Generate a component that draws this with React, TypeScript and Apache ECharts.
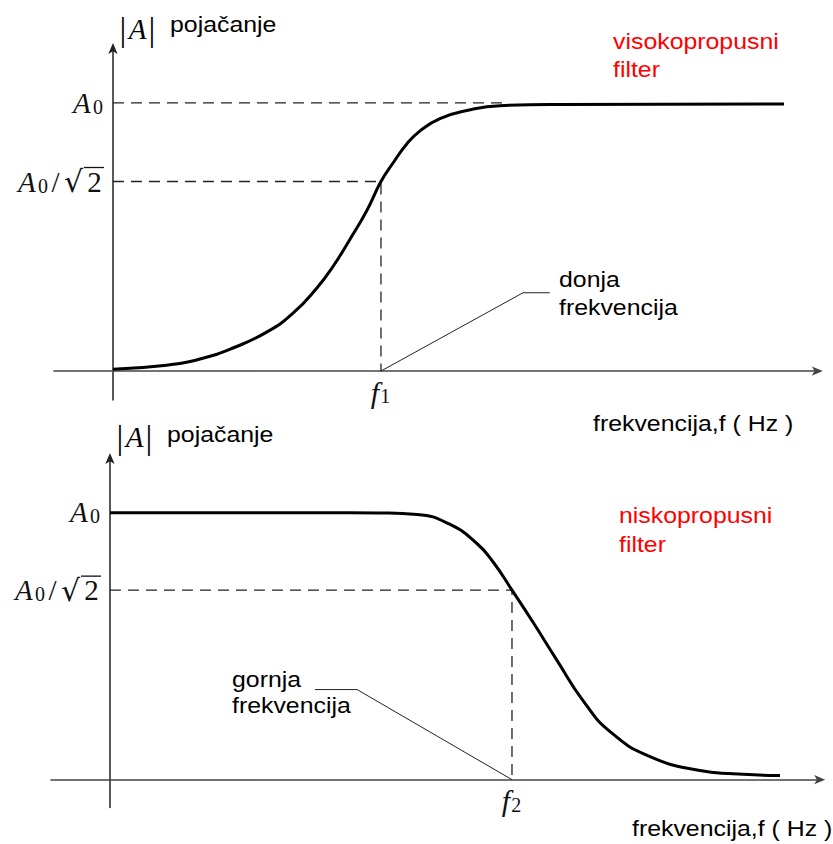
import React, { useEffect, useRef } from "react";
import * as echarts from "echarts";

// High-pass (visokopropusni) response, x in units where f1 = 1, y in units of A0
const hpX = [0, 0.2, 0.325, 0.448, 0.575, 0.672, 0.761, 0.821, 0.884, 0.948, 1.0, 1.045, 1.097, 1.146, 1.22, 1.321, 1.444, 1.668, 2.504];
const hpY = [0.007, 0.022, 0.045, 0.086, 0.146, 0.216, 0.31, 0.39, 0.491, 0.6, 0.707, 0.776, 0.848, 0.896, 0.942, 0.972, 0.99, 0.994, 0.996];
// Low-pass (niskopropusni) response, x in the same units (f2 = 1.5)
const lpX = [0, 0.5, 0.896, 1.0, 1.146, 1.269, 1.369, 1.429, 1.5, 1.578, 1.668, 1.765, 1.866, 2.015, 2.201, 2.325, 2.5];
const lpY = [0.996, 0.996, 0.996, 0.995, 0.989, 0.952, 0.881, 0.813, 0.707, 0.588, 0.445, 0.295, 0.179, 0.086, 0.034, 0.022, 0.015];

const A0 = 1;
const A0_SQRT2 = 0.707;
const f1 = 1;
const f2 = 1.5;
const hpA0End = 1.46;
const hpLeaderX = [f1, 1.53, 1.63];
const hpLeaderY = [0, 0.292, 0.292];
const lpLeaderX = [f2, 0.922, 0.765];
const lpLeaderY = [0, 0.336, 0.336];

const SANS = "Liberation Sans";
const SERIF = "Liberation Serif";
const INK = "#111";
const Y_LABEL_MARGIN = 9;

const mathRich = {
  a: { fontFamily: SERIF, fontStyle: "italic", fontSize: 29, color: INK, lineHeight: 28, width: 20, align: "center" },
  s: { fontFamily: SERIF, fontSize: 20, color: INK, lineHeight: 2, verticalAlign: "bottom", width: 12, align: "left" },
  n: { fontFamily: SERIF, fontSize: 29, color: INK, lineHeight: 28, width: 13, align: "center" },
  r: { fontFamily: "DejaVu Serif", fontSize: 30, color: INK, lineHeight: 28, width: 23, align: "right" },
  d: { fontFamily: SERIF, fontSize: 29, color: INK, lineHeight: 28, width: 19, align: "center" },
  b: { fontFamily: SERIF, fontSize: 34, color: INK, lineHeight: 34, width: 8, align: "center" },
  c: { fontFamily: SERIF, fontStyle: "italic", fontSize: 29, color: INK, lineHeight: 34, width: 21, align: "center" },
  f: { fontFamily: SERIF, fontStyle: "italic", fontSize: 30, color: INK, lineHeight: 28 },
};

function yLabel(v: number) {
  if (Math.abs(v - A0) < 1e-6) return "{a|A}{s|0}";
  if (Math.abs(v - A0_SQRT2) < 1e-6) return "{a|A}{s|0}{n|/}{r|√}{d|2}";
  return "";
}

function txt(text: string, left: number, baseline: number, color = "#000", size = 22) {
  return {
    type: "text",
    x: left,
    y: baseline - 0.34 * size,
    scaleX: 1.13,
    style: { text, x: 0, y: 0, fill: color, fontFamily: SANS, fontSize: size, verticalAlign: "middle", align: "left" },
  };
}

function mathTxt(text: string, left: number, centerY: number) {
  return {
    type: "text",
    x: left,
    y: centerY,
    style: { text, x: 0, y: 0, verticalAlign: "middle", align: "left", rich: mathRich },
  };
}

type G = { left: number; top: number; width: number; height: number };

function axisPair(gi: number, g: G, xmin: number, xmax: number, ymin: number, ymax: number, fv: number, fsub: string) {
  // place the axes at the zero of the other axis
  const yOff = -((0 - xmin) / (xmax - xmin)) * g.width;
  const xOff = -((0 - ymin) / (ymax - ymin)) * g.height;
  return {
    x: {
      gridIndex: gi, type: "value", min: xmin, max: xmax, position: "bottom", offset: xOff,
      axisLine: { onZero: false, symbol: ["none", "arrow"], symbolSize: [7, 11], symbolOffset: [0, 5], lineStyle: { color: "#444", width: 1.6 } },
      axisTick: { show: false }, splitLine: { show: false },
      axisLabel: { customValues: [fv], margin: 7, formatter: () => "{f|f}{s|" + fsub + "}", rich: mathRich },
    },
    y: {
      gridIndex: gi, type: "value", min: ymin, max: ymax, position: "left", offset: yOff,
      axisLine: { onZero: false, symbol: ["none", "arrow"], symbolSize: [7, 11], symbolOffset: [0, 5], lineStyle: { color: "#222", width: 1.5 } },
      axisTick: { show: false }, splitLine: { show: false },
      axisLabel: { customValues: [A0_SQRT2, A0], margin: Y_LABEL_MARGIN, formatter: (v: number) => yLabel(v), rich: mathRich },
    },
  };
}

export default function App() {
  const ref = useRef<HTMLDivElement>(null);
  useEffect(() => {
    if (!ref.current) return;
    const chart = echarts.init(ref.current, undefined, { renderer: "svg" });
    const g0: G = { left: 54, top: 48, width: 763.8, height: 352 };
    const g1: G = { left: 51, top: 458, width: 769.2, height: 349.5 };
    const top = axisPair(0, g0, -0.22, 2.63, -0.108, 1.205, f1, "1");
    const bot = axisPair(1, g1, -0.22, 2.65, -0.104, 1.2, f2, "2");
    const dashed = { color: "#222", width: 1.3, type: [11, 7] as any };
    const leader = { color: "#222", width: 1 };
    const zip = (a: number[], b: number[]) => a.map((v, i) => [v, b[i]]);
    const curve = { color: "#000", width: 3 };
    const texts: any[] = [
      mathTxt("{b||}{c|A}{b||}", 119, 29),
      txt("pojačanje", 170, 32),
      txt("visokopropusni", 613, 49, "#ff0000"),
      txt("filter", 613, 77, "#ff0000"),
      txt("donja", 559, 287),
      txt("frekvencija", 559, 315),
      txt("frekvencija,f ( Hz )", 593, 431),
      mathTxt("{b||}{c|A}{b||}", 116, 437),
      txt("pojačanje", 167, 442),
      txt("niskopropusni", 619, 523, "#ff0000"),
      txt("filter", 619, 552, "#ff0000"),
      txt("gornja", 232, 687),
      txt("frekvencija", 232, 713),
      txt("frekvencija,f ( Hz )", 632, 836),
    ];
    chart.setOption({
      animation: false,
      backgroundColor: "#fff",
      grid: [
        { ...g0, outerBoundsMode: "none", containLabel: false },
        { ...g1, outerBoundsMode: "none", containLabel: false },
      ],
      xAxis: [top.x, bot.x],
      yAxis: [top.y, bot.y],
      series: [
        { type: "line", xAxisIndex: 0, yAxisIndex: 0, data: [[0, A0], [hpA0End, A0]], showSymbol: false, lineStyle: dashed, z: 2 },
        { type: "line", xAxisIndex: 0, yAxisIndex: 0, data: [[0, A0_SQRT2], [f1, A0_SQRT2], [f1, 0]], showSymbol: false, lineStyle: dashed, z: 2 },
        { type: "line", xAxisIndex: 0, yAxisIndex: 0, data: zip(hpLeaderX, hpLeaderY), showSymbol: false, lineStyle: leader, z: 2 },
        { type: "line", xAxisIndex: 0, yAxisIndex: 0, data: zip(hpX, hpY), showSymbol: false, smooth: 0.5, lineStyle: curve, z: 3 },
        { type: "line", xAxisIndex: 1, yAxisIndex: 1, data: [[0, A0_SQRT2], [f2, A0_SQRT2], [f2, 0]], showSymbol: false, lineStyle: dashed, z: 2 },
        { type: "line", xAxisIndex: 1, yAxisIndex: 1, data: zip(lpLeaderX, lpLeaderY), showSymbol: false, lineStyle: leader, z: 2 },
        { type: "line", xAxisIndex: 1, yAxisIndex: 1, data: zip(lpX, lpY), showSymbol: false, smooth: 0.5, lineStyle: curve, z: 3 },
      ],
      graphic: texts,
    });
    // overline (vinculum) of the square root in the A0/√2 labels, placed from the axis scale
    const bars: any[] = [0, 1].map((gi) => {
      const p = chart.convertToPixel({ xAxisIndex: gi, yAxisIndex: gi }, [0, A0_SQRT2]) as number[];
      const right = p[0] - Y_LABEL_MARGIN;
      return {
        type: "line",
        shape: { x1: right - 20, y1: p[1] - 14, x2: right, y2: p[1] - 14 },
        style: { stroke: INK, lineWidth: 1.3 },
      };
    });
    chart.setOption({ graphic: [...texts, ...bars] });
    return () => chart.dispose();
  }, []);
  return <div ref={ref} style={{ position: "fixed", left: 0, top: 0, width: 833, height: 844, background: "#fff" }} />;
}
